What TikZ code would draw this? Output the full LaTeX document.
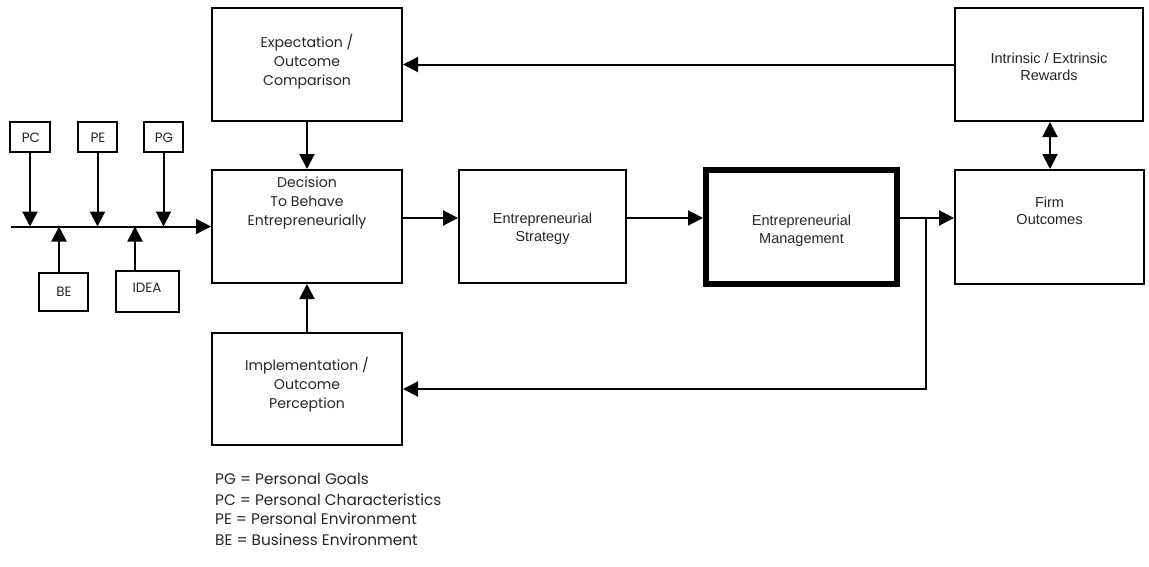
\documentclass[tikz,border=0pt]{standalone}
\usepackage{fontspec}
\newfontfamily\gothic{Poppins}
\newfontfamily\arial{Liberation Sans}
\usetikzlibrary{arrows.meta}
\begin{document}
\begin{tikzpicture}[x=1pt,y=-1pt,
  >={Triangle[length=15pt,width=15pt]},
  box/.style={draw, line width=2pt, inner sep=0pt},
  bigbox/.style={box, minimum width=190pt, minimum height=113pt},
  smallbox/.style={box},
  lbl/.style={align=center, inner sep=0pt, text=black!85},
  gtext/.style={lbl, font=\gothic\fontsize{14.1}{19}\selectfont},
  atext/.style={lbl, font=\arial\fontsize{14.5}{17.5}\selectfont},
  stext/.style={lbl, font=\gothic\fontsize{13.5}{15}\selectfont},
  legend/.style={lbl, anchor=west, font=\gothic\fontsize{15.3}{18}\selectfont},
  conn/.style={line width=2pt, ->},
]
\useasboundingbox (0,0) rectangle (1149,566);

% main boxes
\node[bigbox] (exp)  at (307,64.5) {};
\node[bigbox, minimum width=188pt] (rew) at (1049,64.5) {};
\node[bigbox] (dec)  at (307,226.5) {};
\node[bigbox, minimum width=167pt] (strat) at (542.5,226.5) {};
\node[bigbox, line width=6pt, minimum width=191pt, minimum height=114pt] (mgmt) at (801.5,227) {};
\node[bigbox, minimum width=189pt, minimum height=114pt] (firm) at (1049.5,227) {};
\node[bigbox, minimum height=112pt] (impl) at (307,389) {};

% box texts
\node[gtext] (expT)   at (307,62)    {Expectation /\\Outcome\\Comparison};
\node[atext] (rewT)   at (1049,67)   {Intrinsic / Extrinsic\\Rewards};
\node[gtext] (decT)   at (307,203)   {Decision\\To Behave\\Entrepreneurially};
\node[atext] (stratT) at (542.5,228.5) {Entrepreneurial\\Strategy};
\node[atext] (mgmtT)  at (801.5,230.5) {Entrepreneurial\\Management};
\node[atext] (firmT)  at (1049.5,211) {Firm\\Outcomes};
\node[gtext] (implT)  at (307,385)   {Implementation /\\Outcome\\Perception};

% input boxes
\node[smallbox, minimum width=40pt, minimum height=30pt] (pc) at (30,137) {};
\node[smallbox, minimum width=39pt, minimum height=30pt] (pe) at (97.5,137) {};
\node[smallbox, minimum width=39pt, minimum height=30pt] (pg) at (163.5,137) {};
\node[smallbox, minimum width=49pt, minimum height=38pt] (be) at (63.5,292) {};
\node[smallbox, minimum width=63pt, minimum height=41pt] (idea) at (147.5,291.5) {};
\node[stext] (pcT) at (31,138) {PC};
\node[stext] (peT) at (98,138) {PE};
\node[stext] (pgT) at (164,138) {PG};
\node[stext] (beT) at (64,292) {BE};
\node[stext] (ideaT) at (147,288) {IDEA};

% input line into the decision box
\coordinate (mainstart) at (11,226.5);
\draw[conn] (mainstart) -- (dec.west);
\draw[conn] (pc.south) -- (pc.south |- mainstart);
\draw[conn] (pe.south) -- (pe.south |- mainstart);
\draw[conn] (pg.south) -- (pg.south |- mainstart);
\draw[conn] ([xshift=-4.5pt]be.north) -- ([xshift=-4.5pt]be.north |- mainstart);
\draw[conn] ([xshift=-12.5pt]idea.north) -- ([xshift=-12.5pt]idea.north |- mainstart);

% main flow
\draw[conn] (rew.west) -- (exp.east);
\draw[conn] (exp.south) -- (dec.north);
\draw[conn] (impl.north) -- (dec.south);
\draw[conn] ([yshift=8.5pt]dec.east) -- ([yshift=8.5pt]dec.east -| strat.west);
\draw[conn] ([yshift=8.5pt]strat.east) -- ([yshift=8.5pt]strat.east -| mgmt.west);
\draw[conn] ([yshift=9pt]mgmt.east) -- ([yshift=9pt]mgmt.east -| firm.west);
\coordinate (split) at ([xshift=26pt,yshift=9pt]mgmt.east);
\draw[conn] (split) |- (impl.east);
\draw[line width=2pt, <->] ([xshift=1pt]rew.south) -- ([xshift=1pt]rew.south |- firm.north);

% legend
\node[legend] (lg1) at (215,479) {PG = Personal Goals};
\node[legend] (lg2) at (215,500) {PC = Personal Characteristics};
\node[legend] (lg3) at (215,519) {PE = Personal Environment};
\node[legend] (lg4) at (215,540) {BE = Business Environment};
\end{tikzpicture}
\end{document}
